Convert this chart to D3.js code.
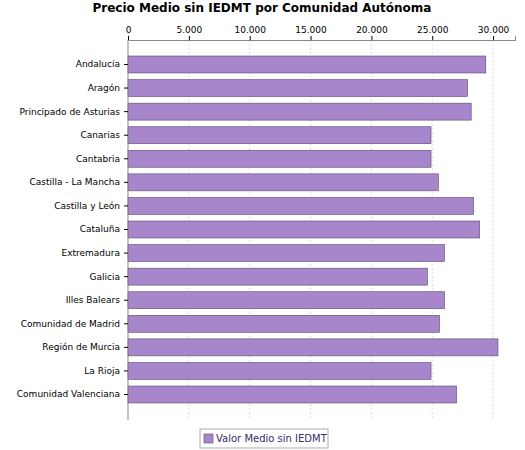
<!DOCTYPE html><html><head><meta charset="utf-8"><script src="https://cdn.jsdelivr.net/npm/d3@7"></script>
<style>body{margin:0;background:#fff}text{font-family:"DejaVu Sans",sans-serif}</style></head><body><svg id="c" width="525" height="450"></svg>
<script>
const categories=["Andalucía","Aragón","Principado de Asturias","Canarias","Cantabria","Castilla - La Mancha","Castilla y León","Cataluña","Extremadura","Galicia","Illes Balears","Comunidad de Madrid","Región de Murcia","La Rioja","Comunidad Valenciana"];
const values=[29400,27900,28200,24900,24900,25500,28400,28900,26000,24600,26000,25600,30400,24900,27000];
const tickValues=[0,5000,10000,15000,20000,25000,30000];
const tickLabels=["0","5.000","10.000","15.000","20.000","25.000","30.000"];
const svg=d3.select("#c");
const L=128,R=515,T=40,B=420;
const x=d3.scaleLinear().domain([0,31800]).range([L,R]);
const y=d3.scaleBand().domain(categories).range([52.7,406.3]).paddingInner(0.28).paddingOuter(0.14);
svg.append("text").attr("x",262).attr("y",12).attr("text-anchor","middle").attr("font-size",12).attr("font-weight","bold").text("Precio Medio sin IEDMT por Comunidad Autónoma");
svg.selectAll(".g").data(tickValues.slice(1)).join("line").attr("x1",d=>x(d)).attr("x2",d=>x(d)).attr("y1",T).attr("y2",B).attr("stroke","#ddd").attr("stroke-dasharray","2,2");
svg.selectAll(".b").data(values).join("rect").attr("x",x(0)).attr("y",(d,i)=>y(categories[i])).attr("width",d=>x(d)-x(0)).attr("height",y.bandwidth()).attr("fill","#a786cc").attr("stroke","#5a4a70").attr("stroke-width",0.6);
const ax=svg.append("g").attr("transform",`translate(0,${T})`).call(d3.axisTop(x).tickValues(tickValues).tickFormat((d,i)=>tickLabels[i]).tickSize(4));
ax.selectAll("text").attr("font-size",9).attr("font-family","DejaVu Sans");
ax.select(".domain").attr("stroke","#888");
svg.append("line").attr("x1",L).attr("x2",L).attr("y1",T).attr("y2",B).attr("stroke","#888");
const ay=svg.append("g").attr("transform",`translate(${L},0)`).call(d3.axisLeft(y).tickSize(4));
ay.selectAll("text").attr("font-size",9).attr("font-family","DejaVu Sans").attr("x",-8);
ay.select(".domain").remove();
svg.append("rect").attr("x",200).attr("y",429).attr("width",128).attr("height",19).attr("fill","#fff").attr("stroke","#aaa");
svg.append("rect").attr("x",204).attr("y",434).attr("width",9).attr("height",9).attr("fill","#a786cc").attr("stroke","#5a4a70").attr("stroke-width",0.6);
svg.append("text").attr("x",216).attr("y",442).attr("font-size",10).attr("fill","#3a2a6a").text("Valor Medio sin IEDMT");
</script></body></html>
